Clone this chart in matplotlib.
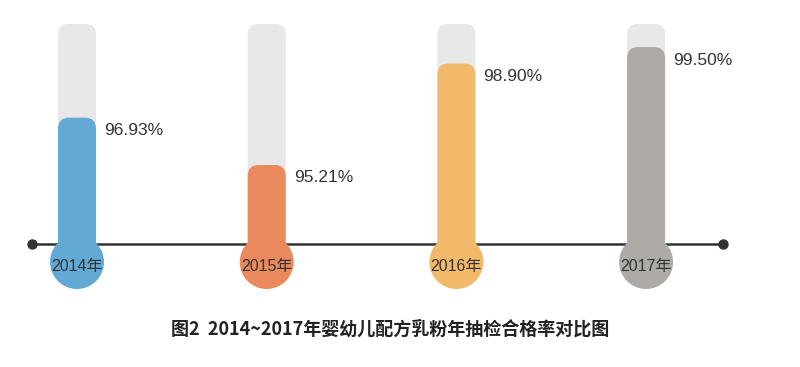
import matplotlib.pyplot as plt
from matplotlib.patches import FancyBboxPatch, Ellipse

years = ['2014年', '2015年', '2016年', '2017年']
rates = [96.93, 95.21, 98.90, 99.50]
colors = ['#63A9D6', '#EA895D', '#F2B96A', '#AEAAA6']
title = '图2  2014~2017年婴幼儿配方乳粉年抽检合格率对比图'

W, H = 800, 367
PX_X = 189.7      # pixels per category step
PX_Y = 27.5       # pixels per percent
X0 = 77           # pixel x of first thermometer
Y_TOP = 101.21    # value at the top edge of the picture


def py(p):
    # pixel row -> value units (layout only)
    return Y_TOP - p / PX_Y


def px(p):
    # pixel column -> category units (layout only)
    return (p - X0) / PX_X


fig = plt.figure(figsize=(W / 100, H / 100), dpi=100)
ax = fig.add_axes([0, 0, 1, 1])
ax.set_xlim(px(0), px(W))
ax.set_ylim(py(H), Y_TOP)
ax.axis('off')

tube_w = 38 / PX_X
r_bulb = 27
tube_top = py(24)
bulb_y = py(262)
line_y = py(244)
aspect = PX_X / PX_Y

# axis line with end dots, behind the thermometers
ax.plot([px(32), px(723)], [line_y, line_y], color='#333333', lw=1.8,
        marker='o', markersize=6.5, zorder=1)

for i, (yr, v, c) in enumerate(zip(years, rates, colors)):
    bg = FancyBboxPatch((i - tube_w / 2, bulb_y), tube_w, tube_top - bulb_y,
                        boxstyle='round,pad=0,rounding_size=%f' % (10 / PX_X),
                        mutation_aspect=aspect, fc='#E8E8E8', ec='none', zorder=2)
    ax.add_patch(bg)
    fill = FancyBboxPatch((i - tube_w / 2, bulb_y), tube_w, v - bulb_y,
                          boxstyle='round,pad=0,rounding_size=%f' % (11 / PX_X),
                          mutation_aspect=aspect, fc=c, ec='none', zorder=3)
    ax.add_patch(fill)
    ax.add_patch(Ellipse((i, bulb_y), 2 * r_bulb / PX_X, 2 * r_bulb / PX_Y,
                         fc=c, ec='none', zorder=3))
    ax.text(i, py(266), yr, ha='center', va='center', fontsize=11.5,
            color='#333333', family=['Liberation Sans', 'Noto Sans CJK SC'],
            zorder=4)
    ax.text(i + 27 / PX_X, v - 13 / PX_Y, '%.2f%%' % v, ha='left', va='center',
            fontsize=12.5, color='#333333', family='Liberation Sans', zorder=4)

fig.text(0.4875, 1 - 329 / H, title, ha='center', va='center', fontsize=13,
         fontweight='bold', color='#222222',
         family=['Noto Sans CJK SC', 'DejaVu Sans'])

fig.savefig('out.png', dpi=100, facecolor='white')
